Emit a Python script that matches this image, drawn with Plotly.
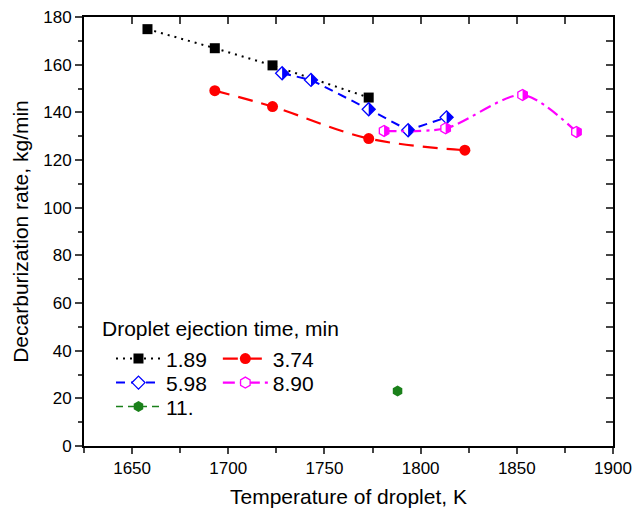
import plotly.graph_objects as go

# ---- data ----
t189_x = [1658, 1693, 1723, 1773]
t189_y = [174.9, 166.9, 159.7, 146.2]

t374_x = [1693, 1723, 1773, 1823]
t374_y = [149.1, 142.4, 129.0, 124.1]

t598_x = [1728, 1743, 1773, 1793.5, 1813.5]
t598_y = [156.4, 153.6, 141.3, 132.5, 137.9]

t890_x = [1781, 1813, 1853, 1881]
t890_y = [132.2, 133.3, 147.3, 131.8]

t11_x = [1788]
t11_y = [23.1]

x_range = [1625, 1900]
y_range = [0, 180]

FONT = "Liberation Sans, Arial, sans-serif"
BLUE = "#0000ff"
RED = "#ff0000"
MAG = "#ff00ff"
GREEN = "#1a801a"

fig = go.Figure()

fig.add_trace(go.Scatter(
    x=t189_x, y=t189_y, name="1.89", mode="lines+markers",
    line=dict(color="black", width=2, dash="2px,5px"),
    marker=dict(symbol="square", size=10, color="black"),
    legend="legend"))

fig.add_trace(go.Scatter(
    x=t374_x, y=t374_y, name="3.74", mode="lines+markers",
    line=dict(color=RED, width=2.2, dash="15px,9px", shape="spline", smoothing=1),
    marker=dict(symbol="circle", size=11, color=RED),
    legend="legend2"))

DSIZE = 10
fig.add_trace(go.Scatter(
    x=t598_x, y=t598_y, name="5.98", mode="lines+markers",
    line=dict(color=BLUE, width=2, dash="9px,6px"),
    marker=dict(symbol="diamond", size=DSIZE, color="white", line=dict(color=BLUE, width=1.3)),
    legend="legend3"))

HSIZE = 11
fig.add_trace(go.Scatter(
    x=t890_x, y=t890_y, name="8.90", mode="lines+markers",
    line=dict(color=MAG, width=2.2, dash="12px,5px,3px,5px", shape="spline", smoothing=0.8),
    marker=dict(symbol="hexagon", size=HSIZE, color="white", line=dict(color=MAG, width=1.3)),
    legend="legend4"))

fig.add_trace(go.Scatter(
    x=t11_x, y=t11_y, name="11.", mode="lines+markers",
    line=dict(color=GREEN, width=1.5, dash="7px,5px"),
    marker=dict(symbol="hexagon", size=11, color=GREEN),
    legend="legend5"))

# half-filled marker overlays (right half filled), anchored to the data points
shapes = []
rd = 1.3 * DSIZE / 2
for x, y in zip(t598_x, t598_y):
    shapes.append(dict(type="path", xref="x", yref="y", xsizemode="pixel", ysizemode="pixel",
                       xanchor=x, yanchor=y, layer="above",
                       path=f"M0,{-rd}L{rd},0L0,{rd}Z",
                       fillcolor=BLUE, line=dict(width=0)))
h = HSIZE / 2
r2 = h * 3 ** 0.5 / 2
r1 = h / 2
for x, y in zip(t890_x, t890_y):
    shapes.append(dict(type="path", xref="x", yref="y", xsizemode="pixel", ysizemode="pixel",
                       xanchor=x, yanchor=y, layer="above",
                       path=f"M0,{-h}L{r2},{-r1}L{r2},{r1}L0,{h}Z",
                       fillcolor=MAG, line=dict(width=0)))

leg_common = dict(xanchor="left", yanchor="middle", bgcolor="rgba(0,0,0,0)",
                  font=dict(size=21), itemwidth=45, tracegroupgap=0)
col1_x, col2_x = 0.051, 0.253
row_y = [0.203, 0.147, 0.091]

fig.update_layout(
    template="none",
    width=633, height=514,
    margin=dict(l=84, r=20, t=17, b=68),
    paper_bgcolor="white", plot_bgcolor="white",
    font=dict(family=FONT, size=17, color="black"),
    shapes=shapes,
    showlegend=True,
    legend=dict(x=col1_x, y=row_y[0], **leg_common),
    legend2=dict(x=col2_x, y=row_y[0], **leg_common),
    legend3=dict(x=col1_x, y=row_y[1], **leg_common),
    legend4=dict(x=col2_x, y=row_y[1], **leg_common),
    legend5=dict(x=col1_x, y=row_y[2], **leg_common),
    annotations=[dict(text="Droplet ejection time, min", xref="paper", yref="paper",
                      x=0.030, y=0.275, xanchor="left", yanchor="middle",
                      showarrow=False, font=dict(size=21))],
    xaxis=dict(range=x_range, dtick=50, tick0=1650, ticks="outside", ticklen=6, tickwidth=1.5,
               showline=True, linewidth=2, linecolor="black", showgrid=False, zeroline=False,
               automargin=False,
               minor=dict(dtick=25, tick0=1625, ticks="outside", ticklen=5, tickwidth=1.5, showgrid=False),
               tickfont=dict(size=17),
               title=dict(text="Temperature of droplet, K", font=dict(size=21), standoff=12)),
    yaxis=dict(range=y_range, dtick=20, ticks="outside", ticklen=7, tickwidth=1.5,
               showline=True, linewidth=2, linecolor="black", showgrid=False, zeroline=False,
               automargin=False,
               minor=dict(dtick=10, ticks="outside", ticklen=4, tickwidth=1.5, showgrid=False),
               tickfont=dict(size=17),
               title=dict(text="Decarburization rate, kg/min", font=dict(size=21), standoff=9)),
    xaxis2=dict(range=x_range, overlaying="x", side="top", dtick=25, tick0=1625, ticks="inside",
                ticklen=7, tickwidth=1.5, showticklabels=False, showline=True, linewidth=2,
                linecolor="black", showgrid=False, zeroline=False, automargin=False),
    yaxis2=dict(range=y_range, overlaying="y", side="right", dtick=10, ticks="inside",
                ticklen=7, tickwidth=1.5, showticklabels=False, showline=True, linewidth=2,
                linecolor="black", showgrid=False, zeroline=False, automargin=False),
)

# empty carrier so the mirror axes are drawn
fig.add_trace(go.Scatter(x=[None], y=[None], xaxis="x2", yaxis="y2", showlegend=False,
                         hoverinfo="skip"))

fig.write_html("out.html")
